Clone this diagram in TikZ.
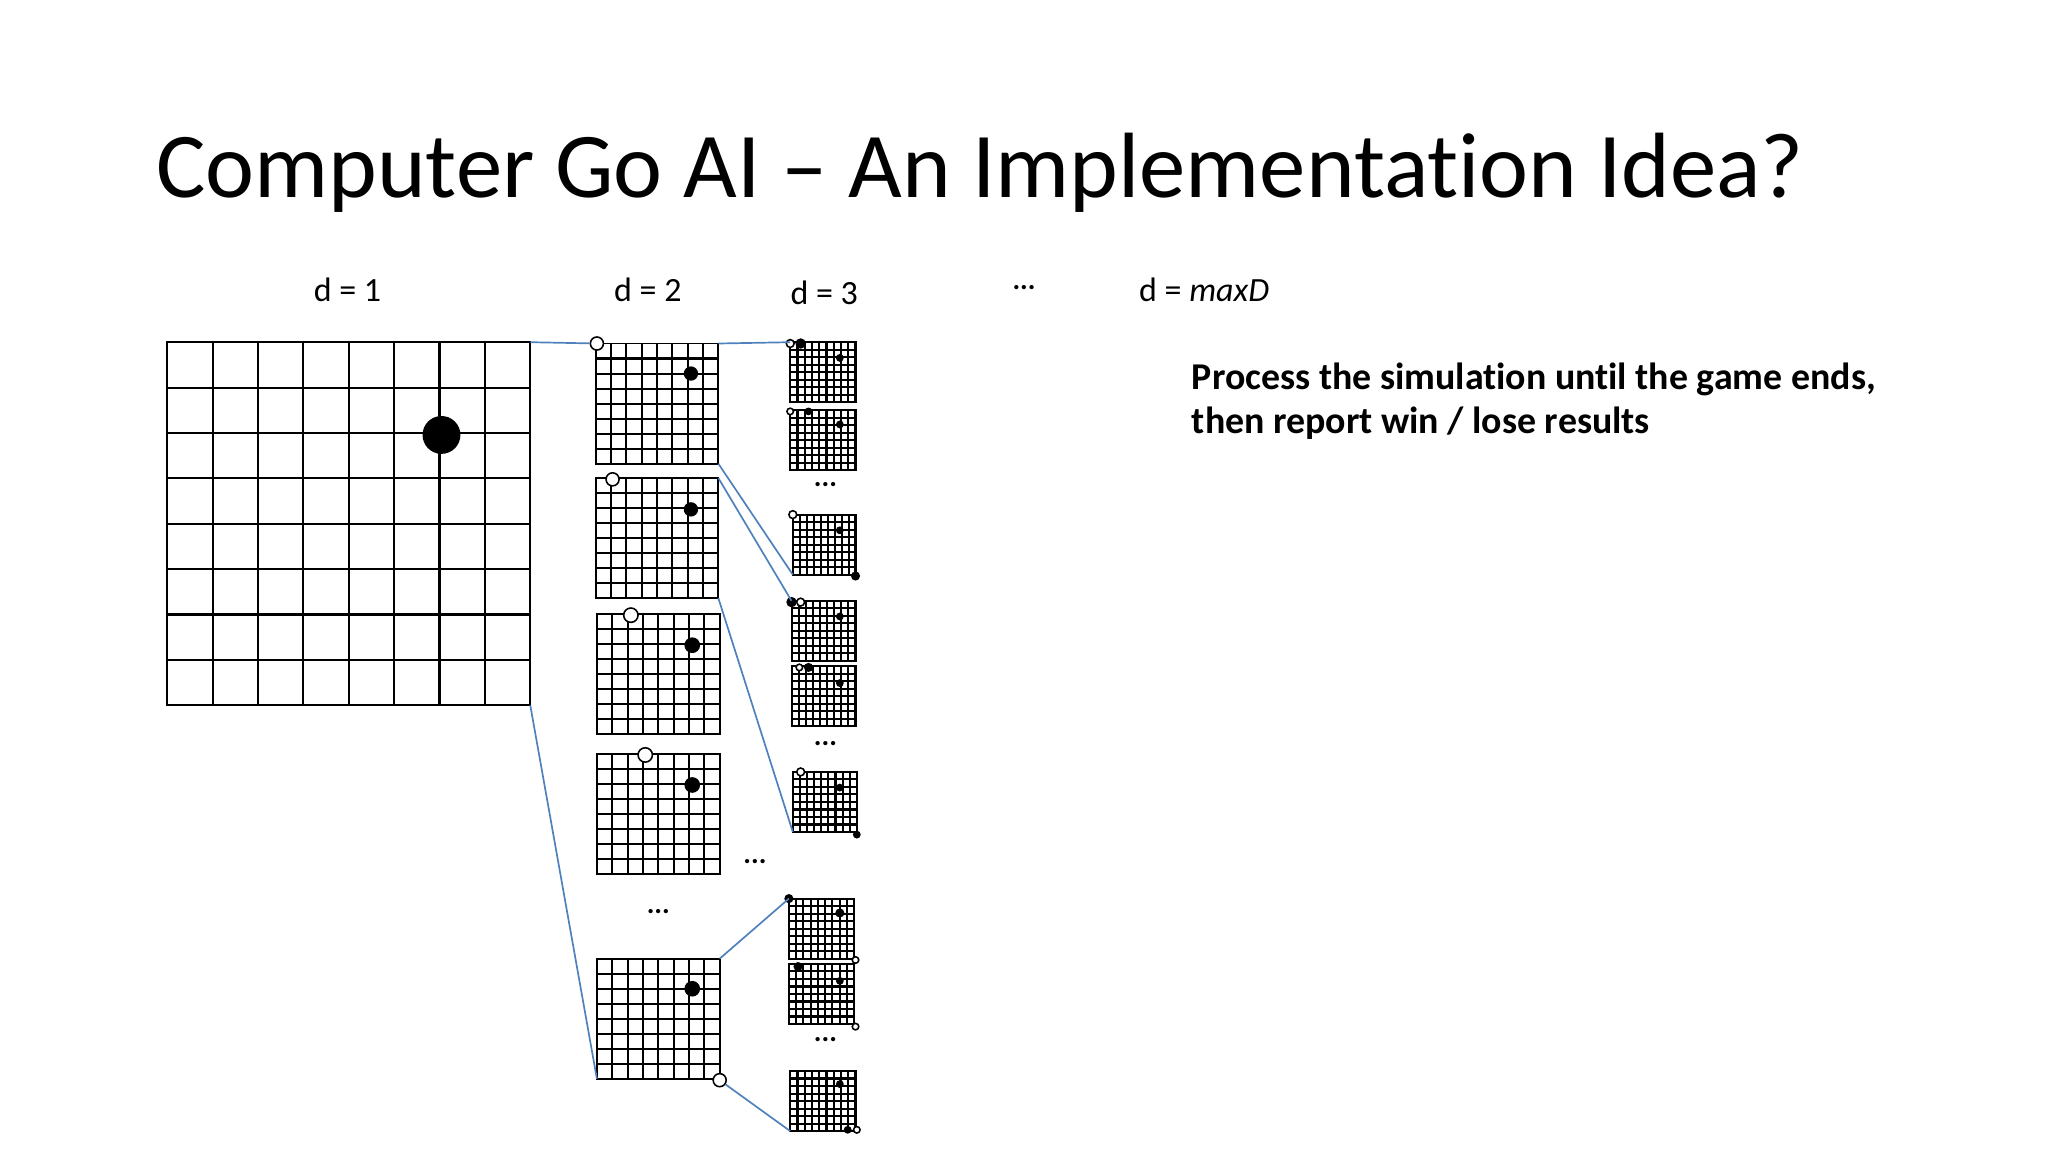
\documentclass[tikz,border=0pt]{standalone}
\usepackage{fontspec}
\setmainfont{Carlito}[Ligatures={NoCommon,NoDiscretionary}]
\usetikzlibrary{positioning,calc}

% board: name, x, y (top left), width, height, columns, rows
\newcommand{\goboard}[7]{%
  \node[board, minimum width=#4pt, minimum height=#5pt, anchor=north west] (#1) at (#2,#3) {};
  \foreach \i in {1,...,#6} {\draw[grid] ($(#1.north west)!\i/#6!(#1.north east)$) -- ($(#1.south west)!\i/#6!(#1.south east)$);}
  \foreach \j in {1,...,#7} {\draw[grid] ($(#1.north west)!\j/#7!(#1.south west)$) -- ($(#1.north east)!\j/#7!(#1.south east)$);}
}

\tikzset{
  board/.style={draw, line width=1.5pt, inner sep=0pt, outer sep=0pt},
  grid/.style={line width=1.6pt},
  link/.style={draw={rgb,255:red,79;green,129;blue,189}, line width=1.3pt},
  bs/.style={circle, fill=black, inner sep=0pt, minimum size=#1pt},
  ws/.style={circle, draw, fill=white, line width=1.2pt, inner sep=0pt, minimum size=#1pt},
  lbl/.style={font=\fontsize{26}{30}\selectfont},
  dots/.style={font=\fontsize{22}{24}\selectfont\bfseries}
}

\begin{document}
\begin{tikzpicture}[x=1pt,y=-1pt]
\useasboundingbox (0,0) rectangle (1568,882);

% title
\node[anchor=west, font=\fontsize{71}{80}\selectfont] (title) at (116,132) {Computer Go AI -- An Implementation Idea?};

% depth labels
\node[lbl] (d1) at (266,222) {d = 1};
\node[lbl] (d2) at (496,222) {d = 2};
\node[lbl] (d3) at (631,224) {d = 3};
\node[dots] (ddots) at (784,220) {...};
\node[lbl] (dmax) at (922,222) {d = \textit{maxD}};
\node[anchor=north west, align=left, font=\fontsize{29}{34}\selectfont\bfseries] (note) at (909,274)
  {Process the simulation until the game ends,\\then report win / lose results};

% d = 1
\goboard{a}{128}{262}{278}{278}{8}{8}
\node[bs=29] (a1) at (338,333) {};

% d = 2
\goboard{b1}{456}{263}{94}{92}{8}{8}
\goboard{b2}{456}{366}{94}{92}{8}{8}
\goboard{b3}{457}{470}{94}{92}{8}{8}
\goboard{b4}{457}{577}{94}{92}{8}{8}
\goboard{b5}{457}{734}{94}{92}{8}{8}
\node[bs=11] at (529,286) {}; \node[ws=10] (w1) at (457,263) {};
\node[bs=11] at (529,390) {}; \node[ws=10] at (469,367) {};
\node[bs=12] at (530,494) {}; \node[ws=11] at (483,471) {};
\node[bs=12] at (530,601) {}; \node[ws=11] at (494,578) {};
\node[bs=12] at (530,757) {}; \node[ws=10] (w5) at (551,827) {};
\node[dots] at (578,660) {...};
\node[dots] at (504,698) {...};

% d = 3
\goboard{c1}{605}{262}{50}{46}{9}{8}
\goboard{c2}{605}{314}{50}{46}{9}{8}
\goboard{c3}{607}{394}{48}{46}{9}{8}
\goboard{c4}{606}{460}{49}{46}{9}{8}
\goboard{c5}{606}{510}{49}{46}{9}{8}
\goboard{c6}{607}{591}{49}{46}{9}{8}
\goboard{c7}{604}{688}{50}{46}{9}{8}
\goboard{c8}{604}{738}{50}{46}{9}{8}
\goboard{c9}{605}{820}{50}{46}{9}{8}
\node[dots] at (632,371) {...};
\node[dots] at (632,569) {...};
\node[dots] at (632,796) {...};

\node[ws=6] at (605,263) {}; \node[bs=8] at (613,263) {}; \node[bs=6] at (643,274) {};
\node[ws=5] at (605,315) {}; \node[bs=6] at (619,315) {}; \node[bs=6] at (643,325) {};
\node[ws=6] at (607,394) {}; \node[bs=6] at (643,406) {}; \node[bs=7] at (655,441) {};
\node[bs=8] at (606,461) {}; \node[ws=6] at (613,461) {}; \node[bs=6] at (643,472) {};
\node[ws=5] at (612,511) {}; \node[bs=7] at (619,511) {}; \node[bs=6] at (643,523) {};
\node[ws=6] at (613,591) {}; \node[bs=6] at (643,603) {}; \node[bs=6] at (656,639) {};
\node[bs=7] at (604,688) {}; \node[bs=7] at (643,699) {}; \node[ws=5] at (655,735) {};
\node[bs=7] at (611,740) {}; \node[bs=6] at (643,751) {}; \node[ws=5] at (655,786) {};
\node[bs=6] at (643,830) {}; \node[bs=6] at (649,865) {}; \node[ws=5] at (656,865) {};

% links
\draw[link] (a.north east) -- (w1);
\draw[link] (a.south east) -- (b5.south west);
\draw[link] (b1.north east) -- (c1.north west);
\draw[link] (b1.south east) -- (c3.south west);
\draw[link] (b2.north east) -- (c4.north west);
\draw[link] (b2.south east) -- (c6.south west);
\draw[link] (b5.north east) -- (c7.north west);
\draw[link] (w5) -- (c9.south west);
\end{tikzpicture}
\end{document}
